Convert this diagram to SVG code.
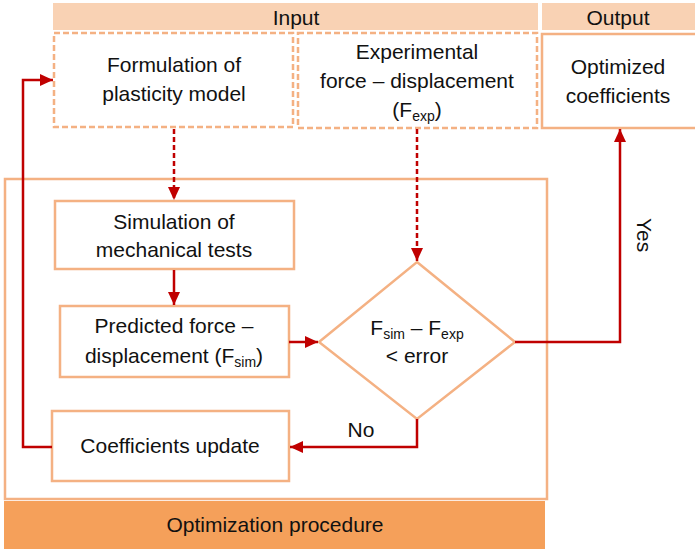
<svg xmlns="http://www.w3.org/2000/svg" width="695" height="550" viewBox="0 0 695 550">
<style>
text{font-family:"Liberation Sans",Arial,sans-serif;font-size:21px;fill:#111;text-anchor:middle}
.sub{font-size:14px}
.box{fill:#fff;stroke:#F4B183;stroke-width:2.5}
.dash{fill:#fff;stroke:#F4B183;stroke-width:2.5;stroke-dasharray:6 3}
.bar{fill:#F9D2B4}
.conn{fill:none;stroke:#C00000;stroke-width:2.5}
.dconn{fill:none;stroke:#C00000;stroke-width:2.5;stroke-dasharray:5 3}
</style>
<defs>
<marker id="ah" markerUnits="userSpaceOnUse" markerWidth="14" markerHeight="14" viewBox="0 0 14 14" refX="13" refY="7" orient="auto">
<path d="M0,1 L13,7 L0,13 z" fill="#C00000"/>
</marker>
</defs>
<g id="headers">
<rect class="bar" x="53" y="3" width="485" height="27"/>
<text x="296" y="25">Input</text>
<rect class="bar" x="542" y="3" width="153" height="27"/>
<text x="618" y="25">Output</text>
</g>
<g id="optimization">
<rect x="5" y="179" width="542" height="320" fill="none" stroke="#F4B183" stroke-width="2.5"/>
<rect x="4" y="501" width="541" height="48" fill="#F5A05A"/>
<text x="275" y="532">Optimization procedure</text>
</g>
<g id="formulation">
<rect class="dash" x="54" y="33" width="239" height="94"/>
<text x="174" y="72">Formulation of</text>
<text x="174" y="101">plasticity model</text>
</g>
<g id="experimental">
<rect class="dash" x="298" y="33" width="239" height="95"/>
<text x="417" y="59">Experimental</text>
<text x="417" y="88">force – displacement</text>
<text x="417" y="117">(F<tspan class="sub" dy="4">exp</tspan><tspan dy="-4">)</tspan></text>
</g>
<g id="optimized">
<rect class="box" x="542" y="34" width="155" height="94"/>
<text x="618" y="74">Optimized</text>
<text x="618" y="103">coefficients</text>
</g>
<g id="simulation">
<rect class="box" x="55" y="201" width="239" height="68"/>
<text x="174" y="229">Simulation of</text>
<text x="174" y="257">mechanical tests</text>
</g>
<g id="predicted">
<rect class="box" x="60" y="306" width="229" height="71"/>
<text x="174" y="333">Predicted force –</text>
<text x="174" y="363">displacement (F<tspan class="sub" dy="4">sim</tspan><tspan dy="-4">)</tspan></text>
</g>
<g id="decision">
<polygon class="box" points="417,262 515,342 417,419 319,342"/>
<text x="417" y="335">F<tspan class="sub" dy="4">sim</tspan><tspan dy="-4"> – F</tspan><tspan class="sub" dy="4">exp</tspan></text>
<text x="417" y="363">&lt; error</text>
</g>
<g id="update">
<rect class="box" x="52" y="411" width="237" height="70"/>
<text x="170" y="453">Coefficients update</text>
</g>
<g id="connectors">
<path class="dconn" d="M174,129 V200" marker-end="url(#ah)"/>
<path class="dconn" d="M417,129 V261" marker-end="url(#ah)"/>
<path class="conn" d="M174,270 V305" marker-end="url(#ah)"/>
<path class="conn" d="M289,342 H318" marker-end="url(#ah)"/>
<path class="conn" d="M515,342 H620 V129" marker-end="url(#ah)"/>
<path class="conn" d="M417,419 V447 H290" marker-end="url(#ah)"/>
<path class="conn" d="M52,447 H23 V80 H53" marker-end="url(#ah)"/>
<text x="361" y="437">No</text>
<text transform="translate(637,235) rotate(90)">Yes</text>
</g>
</svg>
